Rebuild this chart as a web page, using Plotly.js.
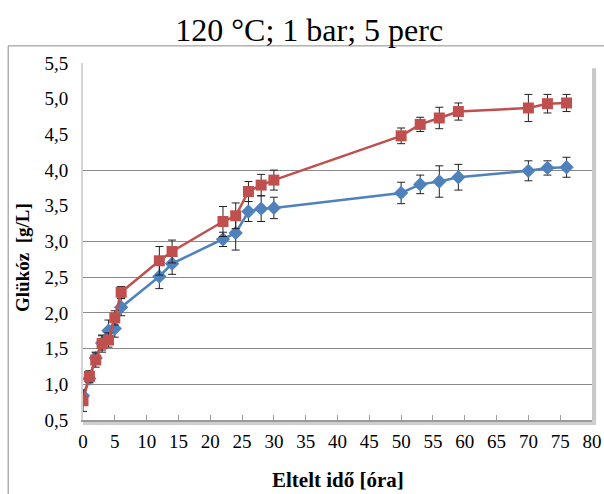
<!DOCTYPE html>
<html>
<head>
<meta charset="utf-8">
<script src="https://cdn.plot.ly/plotly-3.0.1.min.js"></script>
<style>html,body{margin:0;padding:0;background:#fff;}#chart{width:604px;height:494px;}</style>
</head>
<body>
<div id="chart"></div>
<script>
// time [h]
const timeRed  = [0, 1, 2, 3, 4, 5, 6, 12, 14, 22, 24, 26, 28, 30, 50, 53, 56, 59, 70, 73, 76];
const glucRed  = [0.77, 1.11, 1.34, 1.57, 1.62, 1.93, 2.29, 2.73, 2.86, 3.28, 3.36, 3.70, 3.79, 3.86, 4.48, 4.64, 4.73, 4.82, 4.87, 4.93, 4.94];
const errRed   = [0.15, 0.08, 0.10, 0.12, 0.10, 0.10, 0.08, 0.20, 0.16, 0.21, 0.18, 0.14, 0.15, 0.14, 0.11, 0.10, 0.15, 0.12, 0.19, 0.13, 0.12];

const timeBlue = [0, 1, 2, 3, 4, 5, 6, 12, 14, 22, 24, 26, 28, 30, 50, 53, 56, 59, 70, 73, 76];
const glucBlue = [0.84, 1.08, 1.37, 1.58, 1.75, 1.78, 2.08, 2.51, 2.69, 3.03, 3.12, 3.42, 3.46, 3.47, 3.68, 3.80, 3.84, 3.90, 3.99, 4.03, 4.04];
const errBlue  = [0.08, 0.06, 0.08, 0.10, 0.15, 0.12, 0.12, 0.17, 0.15, 0.10, 0.24, 0.14, 0.18, 0.15, 0.15, 0.13, 0.22, 0.18, 0.14, 0.10, 0.14];

const gridVals = [1.0, 1.5, 2.0, 2.5, 3.0, 4.0];

const serif = 'Liberation Serif';

const traces = [
  {
    x: timeBlue, y: glucBlue, type: 'scatter', mode: 'lines+markers',
    line: {color: '#4F81BD', width: 2.5},
    marker: {symbol: 'diamond', size: 11, color: '#4F81BD'},
    error_y: {type: 'data', array: errBlue, visible: true, color: '#222', thickness: 1, width: 4},
    showlegend: false, hoverinfo: 'x+y'
  },
  {
    x: timeRed, y: glucRed, type: 'scatter', mode: 'lines+markers',
    line: {color: '#C0504D', width: 2.5},
    marker: {symbol: 'square', size: 11, color: '#C0504D'},
    error_y: {type: 'data', array: errRed, visible: true, color: '#222', thickness: 1, width: 4},
    showlegend: false, hoverinfo: 'x+y'
  },
  {
    // invisible helper trace for the grid axis
    x: [0], y: [1], yaxis: 'y2', mode: 'markers', marker: {opacity: 0}, showlegend: false, hoverinfo: 'skip'
  }
];

const layout = {
  width: 604, height: 494,
  margin: {l: 83, r: 12, t: 63, b: 74},
  paper_bgcolor: '#ffffff', plot_bgcolor: '#ffffff',
  font: {family: serif, size: 18, color: '#000'},
  separators: ',.',
  showlegend: false,
  title: {text: '120 °C; 1 bar; 5 perc', font: {family: serif, size: 32, color: '#000'}, x: 0.512, xref: 'container', xanchor: 'center', y: 0.94, yanchor: 'middle'},
  xaxis: {
    range: [0, 80], dtick: 5, tick0: 0,
    showgrid: false, zeroline: false,
    showline: true, linecolor: '#9a9a9a', linewidth: 1.5,
    ticks: 'inside', ticklen: 5, tickcolor: '#a0a0a0',
    tickfont: {family: serif, size: 19, color: '#000'},
    ticklabelstandoff: 4
  },
  yaxis: {
    range: [0.5, 5.5], dtick: 0.5, tick0: 0.5, tickformat: '.1f',
    showgrid: false, zeroline: false,
    showline: true, linecolor: '#d4d4d4', linewidth: 2,
    ticks: '', tickfont: {family: serif, size: 19, color: '#000'},
    ticklabelstandoff: 9
  },
  yaxis2: {
    overlaying: 'y', matches: 'y', range: [0.5, 5.5],
    tickvals: gridVals, showticklabels: false, ticks: '',
    showgrid: true, gridcolor: '#8a8a8a', gridwidth: 1,
    zeroline: false, showline: false, layer: 'below traces'
  },
  annotations: [
    {text: '<b>Eltelt idő [óra]</b>', xref: 'paper', yref: 'paper', x: 0.5, y: -0.168, yanchor: 'middle', xanchor: 'center',
     showarrow: false, font: {family: serif, size: 21, color: '#000'}},
    {text: '<b>Glükóz  [g/L]</b>', xref: 'paper', yref: 'paper', x: -0.119, y: 0.455, xanchor: 'center', yanchor: 'middle',
     textangle: -90, showarrow: false, font: {family: serif, size: 19, color: '#000'}}
  ],
  shapes: [
    // outer chart frame
    {type: 'rect', xref: 'paper', yref: 'paper', x0: -0.147, x1: 1.2, y0: -0.4, y1: 1.048,
     line: {color: '#8a8a8a', width: 1}, fillcolor: 'rgba(0,0,0,0)', layer: 'below'},
    // plot-area shadow (right and bottom)
    {type: 'rect', xref: 'paper', yref: 'paper', x0: 1.0, x1: 1.008, y0: -0.014, y1: 0.985,
     line: {width: 0}, fillcolor: '#c9c9c9', layer: 'below'},
    {type: 'rect', xref: 'paper', yref: 'paper', x0: 0.0, x1: 1.008, y0: -0.014, y1: 0.0,
     line: {width: 0}, fillcolor: '#cfcfcf', layer: 'below'}
  ]
};

Plotly.newPlot('chart', traces, layout, {displayModeBar: false, staticPlot: true});
</script>
</body>
</html>
